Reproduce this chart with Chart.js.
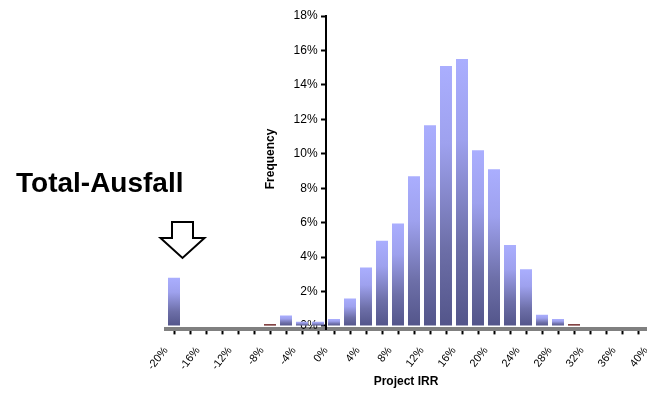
<!DOCTYPE html>
<html>
<head>
<meta charset="utf-8">
<script src="https://cdn.jsdelivr.net/npm/chart.js@4/dist/chart.umd.min.js"></script>
<style>
  html, body { margin: 0; padding: 0; background: #fff; }
  #irrChart { display: block; }
</style>
</head>
<body>
<canvas id="irrChart" width="647" height="394"></canvas>
<script>
// bin centres of the IRR histogram (each bin is 2% wide)
var binCenters = [-19, -17, -15, -13, -11, -9, -7, -5, -3, -1,
                  1, 3, 5, 7, 9, 11, 13, 15, 17, 19,
                  21, 23, 25, 27, 29, 31, 33, 35, 37, 39];
// frequency in % per bin
var frequency = [2.8, 0, 0, 0, 0, 0, 0.1, 0.6, 0.25, 0.25,
                 0.4, 1.6, 3.4, 4.95, 5.95, 8.7, 11.65, 15.1, 15.5, 10.2,
                 9.1, 4.7, 3.3, 0.65, 0.4, 0.1, 0, 0, 0, 0];
var xTickValues = [-20, -16, -12, -8, -4, 0, 4, 8, 12, 16, 20, 24, 28, 32, 36, 40];
var yTickValues = [0, 2, 4, 6, 8, 10, 12, 14, 16, 18];

var chartBottom = 329.4;

function barFill(context) {
    var chart = context.chart;
    var v = context.raw ? context.raw.y : 0;
    if (!v) return "rgba(0,0,0,0)";
    if (v < 0.2) return "#5a0606";
    if (!chart.chartArea || !chart.scales.y) return "#9a9df0";
    var y = chart.scales.y;
    var g = chart.ctx.createLinearGradient(0, y.getPixelForValue(v), 0, y.getPixelForValue(0));
    g.addColorStop(0, "#aaaefe");
    g.addColorStop(0.3, "#9ea1ee");
    g.addColorStop(0.7, "#6d6fa8");
    g.addColorStop(1, "#53558a");
    return g;
}

var annotations = {
    id: "annotations",
    afterDraw: function(chart) {
        var ctx = chart.ctx;
        var x = chart.scales.x;
        var y = chart.scales.y;
        ctx.save();
        // y axis title, drawn by hand so it reads bottom to top
        ctx.fillStyle = "#000";
        ctx.font = "bold 12px 'Liberation Sans', Arial, sans-serif";
        ctx.textAlign = "center";
        ctx.textBaseline = "middle";
        ctx.translate(x.getPixelForValue(0) - 55, y.getPixelForValue(9.7));
        ctx.rotate(-Math.PI / 2);
        ctx.fillText("Frequency", 0, 0);
        ctx.restore();

        ctx.save();
        ctx.fillStyle = "#000";
        ctx.font = "bold 28px 'Liberation Sans', Arial, sans-serif";
        ctx.textAlign = "left";
        ctx.textBaseline = "alphabetic";
        ctx.fillText("Total-Ausfall", 16, 192);

        // hollow arrow pointing at the total loss bar
        var cx = x.getPixelForValue(binCenters[0]) + 8.5;
        ctx.beginPath();
        ctx.moveTo(cx - 10.5, 222);
        ctx.lineTo(cx + 10.5, 222);
        ctx.lineTo(cx + 10.5, 238);
        ctx.lineTo(cx + 22, 238);
        ctx.lineTo(cx, 258);
        ctx.lineTo(cx - 22, 238);
        ctx.lineTo(cx - 10.5, 238);
        ctx.closePath();
        ctx.fillStyle = "#fff";
        ctx.fill();
        ctx.lineWidth = 2;
        ctx.strokeStyle = "#000";
        ctx.stroke();
        ctx.restore();
    }
};

var myChart = new Chart(document.getElementById("irrChart"), {
    type: "bar",
    data: {
        datasets: [{
            label: "Frequency",
            data: binCenters.map(function(c, i) { return { x: c, y: frequency[i] }; }),
            backgroundColor: barFill,
            borderWidth: 0,
            inflateAmount: 0,
            barThickness: 12
        }]
    },
    options: {
        responsive: false,
        animation: false,
        layout: { padding: { left: 166, right: 1, top: 16, bottom: 2 } },
        plugins: {
            legend: { display: false },
            tooltip: { enabled: false }
        },
        scales: {
            x: {
                type: "linear",
                min: -20,
                max: 40,
                offset: false,
                afterBuildTicks: function(scale) {
                    var t = [];
                    for (var v = -20; v <= 40; v += 2) t.push({ value: v });
                    scale.ticks = t;
                },
                afterFit: function(scale) {
                    scale.height = 394 - 2 - chartBottom;
                    scale.paddingRight = 0;
                },
                ticks: {
                    autoSkip: false,
                    minRotation: 52,
                    maxRotation: 52,
                    padding: 10,
                    color: "#000",
                    font: { size: 11, family: "'Liberation Sans', Arial, sans-serif" },
                    callback: function(value) {
                        return xTickValues.indexOf(value) >= 0 ? value + "%" : "";
                    }
                },
                grid: {
                    drawOnChartArea: false,
                    tickLength: 5,
                    tickWidth: 2,
                    color: "#000"
                },
                border: { color: "#808080", width: 4 },
                title: {
                    display: true,
                    text: "Project IRR",
                    color: "#000",
                    font: { size: 12, weight: "bold", family: "'Liberation Sans', Arial, sans-serif" },
                    padding: { top: 0, bottom: 3 }
                }
            },
            y: {
                position: { x: 0 },
                min: -0.2,
                max: 18,
                afterBuildTicks: function(scale) {
                    scale.ticks = yTickValues.map(function(v) { return { value: v }; });
                },
                ticks: {
                    color: "#000",
                    font: { size: 12, family: "'Liberation Sans', Arial, sans-serif" },
                    // trailing spaces keep the labels clear of the axis line
                    callback: function(value) { return value + "%\u2002\u2009"; }
                },
                grid: {
                    drawOnChartArea: false,
                    tickLength: 4,
                    tickWidth: 2,
                    color: "#000"
                },
                border: { color: "#000", width: 2 }
            }
        }
    },
    plugins: [annotations]
});
</script>
</body>
</html>
